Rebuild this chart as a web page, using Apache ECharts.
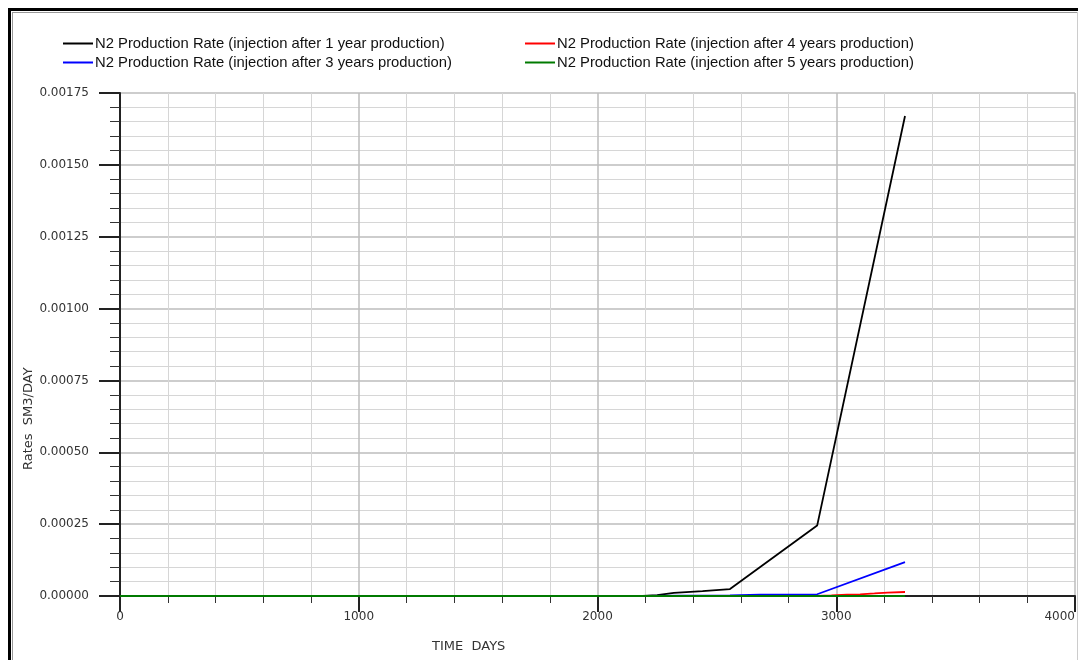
<!DOCTYPE html>
<html>
<head>
<meta charset="utf-8">
<script src="https://cdn.jsdelivr.net/npm/echarts@6/dist/echarts.min.js"></script>
<style>html,body{margin:0;padding:0;background:#fff;}#c{width:1078px;height:660px;}</style>
</head>
<body>
<div id="c"></div>
<script>
const seriesNames = [
  'N2 Production Rate (injection after 1 year production)',
  'N2 Production Rate (injection after 3 years production)',
  'N2 Production Rate (injection after 4 years production)',
  'N2 Production Rate (injection after 5 years production)'
];
const yTickLabels = ['0.00000','0.00025','0.00050','0.00075','0.00100','0.00125','0.00150','0.00175'];
const xTickLabels = ['0','1000','2000','3000','4000'];

const blackDays   = [1460, 1825, 2190, 2250, 2320, 2440, 2555, 2920, 3288];
const blackValues = [0, 0, 0, 0.000003, 0.000011, 0.000017, 0.000024, 0.000245, 0.00167];

const blueDays   = [1460, 2190, 2555, 2680, 2920, 3288];
const blueValues = [0, 0, 0.000002, 0.000005, 0.000006, 0.000118];

const redDays   = [1460, 2555, 2920, 2980, 3045, 3100, 3160, 3215, 3288];
const redValues = [0, 0, 0, 0.000002, 0.000005, 0.000006, 0.000009, 0.000012, 0.000014];

const greenDays   = [0, 1460, 2190, 2920, 3288];
const greenValues = [0, 0, 0, 0, 0];

const colors = ['#000000', '#0000ff', '#ff0000', '#007a00'];

function pairs(d, v) { return d.map((x, i) => [x, v[i]]); }

const chart = echarts.init(document.getElementById('c'));
const font = 'DejaVu Sans';
const mk = (i, d, v) => ({
  name: seriesNames[i], type: 'line', data: pairs(d, v), showSymbol: false,
  lineStyle: { color: colors[i], width: 1.8 }, itemStyle: { color: colors[i] },
  animation: false, z: 3 + i
});
const legendText = { fontFamily: 'Liberation Sans', fontSize: 14.8, color: '#111', padding: [0,0,0,-3] };

chart.setOption({
  animation: false,
  backgroundColor: '#fff',
  grid: { left: 120, right: 3, top: 93, bottom: 64, outerBoundsMode: 'none', containLabel: false },
  legend: [
    { orient: 'vertical', left: 58, top: 31, itemWidth: 30, itemHeight: 2, itemGap: 4,
      icon: 'rect', data: [seriesNames[0], seriesNames[1]], textStyle: legendText },
    { orient: 'vertical', left: 520, top: 31, itemWidth: 30, itemHeight: 2, itemGap: 4,
      icon: 'rect', data: [seriesNames[2], seriesNames[3]], textStyle: legendText }
  ],
  xAxis: {
    type: 'value', min: 0, max: 4000, interval: 1000,
    axisLine: { show: true, onZero: false, lineStyle: { color: '#222', width: 2 } },
    axisTick: { show: true, length: 16, lineStyle: { color: '#222', width: 2 } },
    minorTick: { show: true, splitNumber: 5, length: 7, lineStyle: { color: '#333', width: 1 } },
    splitLine: { show: true, lineStyle: { color: '#bdbdbd', width: 1.5 } },
    minorSplitLine: { show: true, lineStyle: { color: '#d6d6d6', width: 1 } },
    axisLabel: { margin: 15, fontFamily: font, fontSize: 12, color: '#333', alignMaxLabel: 'right',
      formatter: (v) => xTickLabels[Math.round(v / 1000)] }
  },
  yAxis: {
    type: 'value', min: 0, max: 0.00175, interval: 0.00025,
    axisLine: { show: true, lineStyle: { color: '#222', width: 2 } },
    axisTick: { show: true, length: 21, lineStyle: { color: '#222', width: 2 } },
    minorTick: { show: true, splitNumber: 5, length: 10, lineStyle: { color: '#333', width: 1 } },
    splitLine: { show: true, lineStyle: { color: '#bdbdbd', width: 1.5 } },
    minorSplitLine: { show: true, lineStyle: { color: '#d6d6d6', width: 1 } },
    axisLabel: { margin: 31, fontFamily: font, fontSize: 12, color: '#333',
      formatter: (v) => yTickLabels[Math.round(v / 0.00025)] }
  },
  graphic: [
    { type: 'rect', left: 8, top: 8, shape: { width: 1078, height: 3 }, style: { fill: '#000' }, silent: true },
    { type: 'rect', left: 8, top: 8, shape: { width: 3, height: 660 }, style: { fill: '#000' }, silent: true },
    { type: 'rect', left: 12, top: 12, shape: { width: 1078, height: 1 }, style: { fill: '#999' }, silent: true },
    { type: 'rect', left: 12, top: 12, shape: { width: 1, height: 660 }, style: { fill: '#999' }, silent: true },
    { type: 'rect', left: 1077, top: 12, shape: { width: 1, height: 660 }, style: { fill: '#ccc' }, silent: true },
    { type: 'text', left: 432, top: 640, style: { text: 'TIME  DAYS', font: '13px "DejaVu Sans"', fill: '#333' } },
    { type: 'text', x: 22, y: 470, rotation: Math.PI / 2, style: { text: 'Rates  SM3/DAY', font: '13px "DejaVu Sans"', fill: '#333', textVerticalAlign: 'top' } }
  ],
  series: [
    mk(0, blackDays, blackValues),
    mk(1, blueDays, blueValues),
    mk(2, redDays, redValues),
    mk(3, greenDays, greenValues)
  ]
});
</script>
</body>
</html>
